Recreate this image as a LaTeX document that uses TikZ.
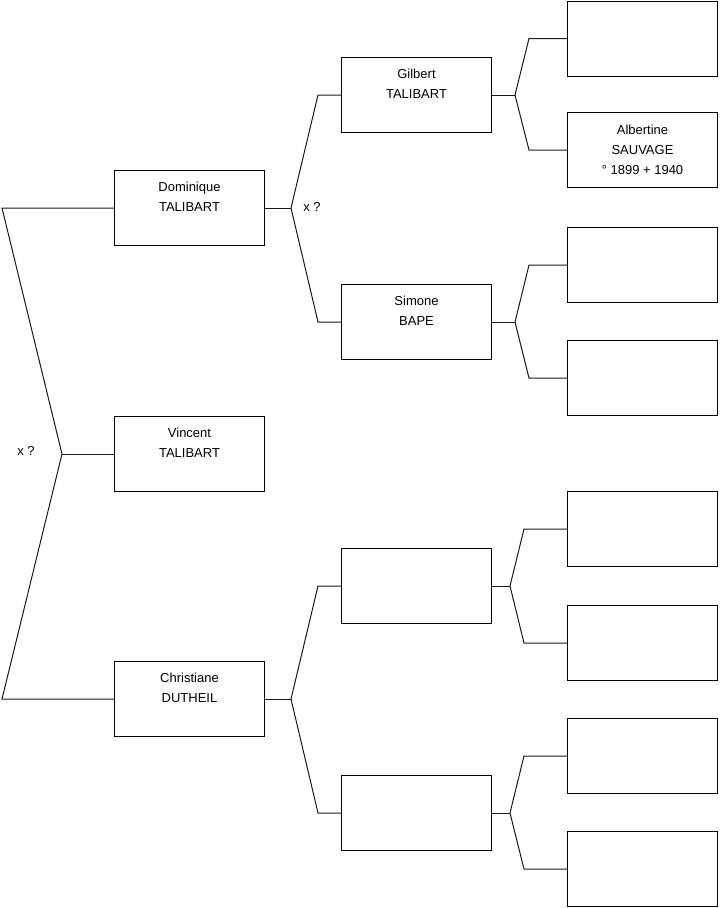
\documentclass[tikz,border=0pt]{standalone}
\usepackage{fontspec}
\setmainfont{Liberation Sans}
\usetikzlibrary{positioning}

\begin{document}
\begin{tikzpicture}[
    x=0.75pt, y=-0.75pt,
    every node/.style={font=\fontsize{9.75}{15}\selectfont},
    pbox/.style={draw,line width=0.75pt,minimum width=112.5pt,
                 minimum height=56.25pt,inner sep=0pt,align=center},
    ln/.style={line width=0.75pt,black!90},
  ]
  \useasboundingbox (0,0) rectangle (719,908);

  % -- the child and the parents --
  \node[pbox] (vin) at (189.5,454) {Vincent\\TALIBART\\[-3pt]\strut};
  \node[pbox] (dom) at (189.5,208) {Dominique\\TALIBART\\[-3pt]\strut};
  \node[pbox] (chr) at (189.5,699) {Christiane\\DUTHEIL\\[-3pt]\strut};

  % -- grandparents --
  \node[pbox] (gil) at (416.5, 95) {Gilbert\\TALIBART\\[-3pt]\strut};
  \node[pbox] (sim) at (416.5,322) {Simone\\BAPE\\[-3pt]\strut};
  \node[pbox] (pa)  at (416.5,586) {};
  \node[pbox] (pb)  at (416.5,813) {};

  % -- great-grandparents --
  \node[pbox] (g1) at (642.5, 38.5) {};
  \node[pbox] (g2) at (642.5,150) {Albertine\\SAUVAGE\\° 1899 + 1940};
  \node[pbox] (g3) at (642.5,265) {};
  \node[pbox] (g4) at (642.5,378) {};
  \node[pbox] (g5) at (642.5,529) {};
  \node[pbox] (g6) at (642.5,643) {};
  \node[pbox] (g7) at (642.5,756) {};
  \node[pbox] (g8) at (642.5,869) {};

  % -- the fork on the left --
  \draw[ln] (vin.west) -- ++(-52,0) coordinate (fv);
  \draw[ln] (dom.west) -- ++(-112,0) -- (fv);
  \draw[ln] (chr.west) -- ++(-112,0) -- (fv);
  \node (xv) at (26,451) {x ?};

  % -- the forks to the right --
  \foreach \p/\a/\b/\j/\k in {dom/gil/sim/26/23, chr/pa/pb/26/23,
                             gil/g1/g2/23/38, sim/g3/g4/23/38,
                             pa/g5/g6/18/43, pb/g7/g8/18/43}{%
    \draw[ln] (\p.east) -- ++(\j,0) coordinate (fk);
    \draw[ln] (\a.west) -- ++(-\k,0) -- (fk);
    \draw[ln] (\b.west) -- ++(-\k,0) -- (fk);
  }
  \node (xd) at (312,207) {x ?};
\end{tikzpicture}
\end{document}
